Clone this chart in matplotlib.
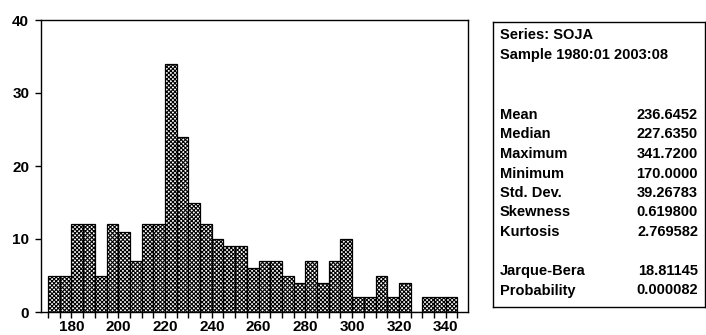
import matplotlib
matplotlib.use("Agg")
import matplotlib.pyplot as plt
from matplotlib.ticker import MultipleLocator

# ---- data ----
bin_starts = [170, 175, 180, 185, 190, 195, 200, 205, 210, 215,
              220, 225, 230, 235, 240, 245, 250, 255, 260, 265,
              270, 275, 280, 285, 290, 295, 300, 305, 310, 315,
              320, 325, 330, 335, 340]
counts = [5, 5, 12, 12, 5, 12, 11, 7, 12, 12,
          34, 24, 15, 12, 10, 9, 9, 6, 7, 7,
          5, 4, 7, 4, 7, 10, 2, 2, 5, 2,
          4, 0, 2, 2, 2]
bin_width = 5
x_ticklabels = [180, 200, 220, 240, 260, 280, 300, 320, 340]
y_ticklabels = [0, 10, 20, 30, 40]

series_title = "Series: SOJA"
sample_title = "Sample 1980:01 2003:08"
stat_names1 = ["Mean", "Median", "Maximum", "Minimum", "Std. Dev.", "Skewness", "Kurtosis"]
stat_values1 = ["236.6452", "227.6350", "341.7200", "170.0000", "39.26783", "0.619800", "2.769582"]
stat_names2 = ["Jarque-Bera", "Probability"]
stat_values2 = ["18.81145", "0.000082"]

plt.rcParams['font.family'] = ['Liberation Sans', 'DejaVu Sans']
plt.rcParams['hatch.linewidth'] = 0.8

W, H = 706, 335
fig = plt.figure(figsize=(W / 100, H / 100), dpi=100)

# histogram axes (pixel coords -> figure fraction)
ax_l, ax_r, ax_t, ax_b = 41, 468, 20, 312
ax = fig.add_axes([ax_l / W, 1 - ax_b / H, (ax_r - ax_l) / W, (ax_b - ax_t) / H])
ax.bar(bin_starts, counts, width=bin_width, align='edge',
       facecolor='white', edgecolor='black', hatch='xxxxxxxx', linewidth=0.9)
ax.set_xlim(167, 349.5)
ax.set_ylim(0, 40)
ax.set_xticks(x_ticklabels)
ax.set_xticklabels([str(v) for v in x_ticklabels])
ax.xaxis.set_minor_locator(MultipleLocator(5))
ax.set_yticks(y_ticklabels)
ax.set_yticklabels([str(v) for v in y_ticklabels])
ax.tick_params(axis='both', which='both', direction='out', length=4.5, width=1.0,
               labelsize=11)
ax.tick_params(axis='y', pad=4)
ax.tick_params(axis='x', pad=1)
for lab in ax.get_xticklabels() + ax.get_yticklabels():
    lab.set_fontweight('bold')
for s in ax.spines.values():
    s.set_linewidth(1.0)

# stats box
bx_l, bx_r, bx_t, bx_b = 493, 705, 22, 307
bax = fig.add_axes([bx_l / W, 1 - bx_b / H, (bx_r - bx_l) / W, (bx_b - bx_t) / H])
bax.set_xlim(bx_l, bx_r)
bax.set_ylim(bx_b, bx_t)
bax.set_xticks([])
bax.set_yticks([])
for s in bax.spines.values():
    s.set_linewidth(1.0)

fs = 10.5
bax.text(500, 35, series_title, fontsize=fs, va='center', ha='left', fontweight='bold')
bax.text(500, 55, sample_title, fontsize=fs, va='center', ha='left', fontweight='bold')
y0, dy = 115, 19.5
for i, (n, v) in enumerate(zip(stat_names1, stat_values1)):
    y = y0 + i * dy
    bax.text(500, y, n, fontsize=fs, va='center', ha='left', fontweight='bold')
    bax.text(698, y, v, fontsize=fs, va='center', ha='right', fontweight='bold')
y1 = 271
for i, (n, v) in enumerate(zip(stat_names2, stat_values2)):
    y = y1 + i * dy
    bax.text(500, y, n, fontsize=fs, va='center', ha='left', fontweight='bold')
    bax.text(698, y, v, fontsize=fs, va='center', ha='right', fontweight='bold')

fig.savefig("out.png", dpi=100)
